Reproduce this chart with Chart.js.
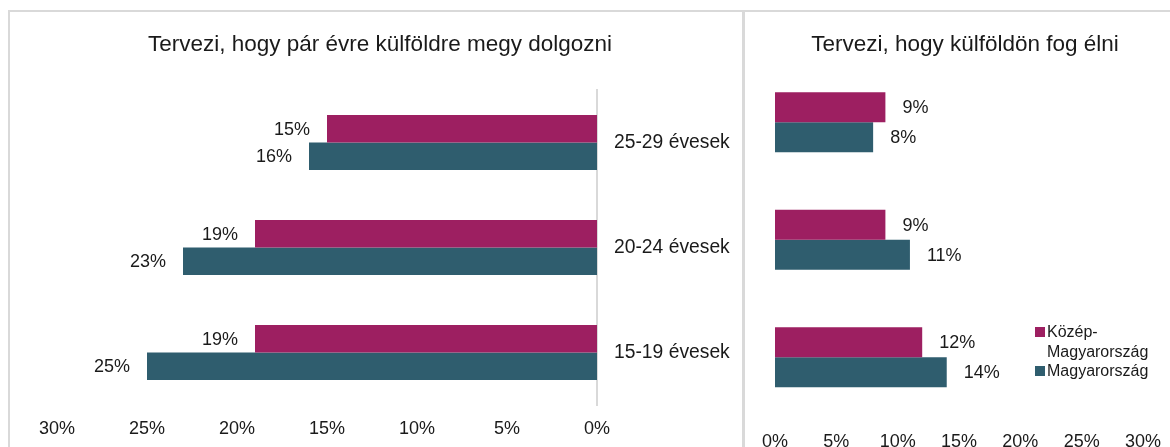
<!DOCTYPE html>
<html><head><meta charset="utf-8">
<script src="https://cdn.jsdelivr.net/npm/chart.js@4.4.1/dist/chart.umd.min.js"></script>
<style>
html,body{margin:0;padding:0;background:#fff;overflow:hidden;width:1170px;height:447px}
#wrap{position:relative;width:1170px;height:447px;font-family:"Liberation Sans",Arial,sans-serif}
.ln{position:absolute;background:#D9D9D9}
#c1{position:absolute;left:9px;top:11px}
#c2{position:absolute;left:746px;top:11px}
#legend{position:absolute;left:1035px;top:322px;font-size:16px;line-height:19.5px;color:#1a1a1a}
.li{display:flex;align-items:flex-start}
.sw{width:10px;height:10px;margin-top:5px;margin-right:2px;flex:none}
.tx{width:112px}
</style></head><body>
<div id="wrap">
  <div class="ln" style="left:9px;top:10px;width:1161px;height:1.5px"></div>
  <div class="ln" style="left:8px;top:10px;width:1.5px;height:437px"></div>
  <div class="ln" style="left:742px;top:10px;width:3px;height:437px"></div>
  <canvas id="c1" width="732" height="436"></canvas>
  <canvas id="c2" width="424" height="436"></canvas>
  <div id="legend"></div>
</div>
<script>
const categories = ["25-29 évesek", "20-24 évesek", "15-19 évesek"];
const seriesNames = ["Közép-Magyarország", "Magyarország"];
const seriesColors = ["#9D1F61", "#2F5D6E"];
const workAbroadKozep = [15, 19, 19];
const workAbroadMagyar = [16, 23, 25];
const liveAbroadKozep = [9, 9, 12];
const liveAbroadMagyar = [8, 11, 14];
const xTicks = [0, 5, 10, 15, 20, 25, 30];
const titleLeft = "Tervezi, hogy pár évre külföldre megy dolgozni";
const titleRight = "Tervezi, hogy külföldön fog élni";

const FONT = '"Liberation Sans", Arial, sans-serif';
const TXT = '#1a1a1a';

function labelPlugin(side) {
  return {
    id: 'valLabels',
    afterDatasetsDraw(chart) {
      const ctx = chart.ctx;
      ctx.save();
      ctx.font = '18px ' + FONT;
      ctx.fillStyle = TXT;
      ctx.textBaseline = 'middle';
      chart.data.datasets.forEach((ds, di) => {
        const meta = chart.getDatasetMeta(di);
        meta.data.forEach((el, i) => {
          const txt = ds.data[i] + '%';
          if (side === 'left') {
            ctx.textAlign = 'right';
            ctx.fillText(txt, el.x - 17, el.y + 1);
          } else {
            ctx.textAlign = 'left';
            ctx.fillText(txt, el.x + 17, el.y + 1);
          }
        });
      });
      ctx.restore();
    }
  };
}

function makeDatasets(a, b, catPct) {
  return [a, b].map((d, k) => ({
    label: seriesNames[k],
    data: d,
    backgroundColor: seriesColors[k],
    borderWidth: 0,
    categoryPercentage: catPct,
    barPercentage: 1
  }));
}

function spacer(pos, w) {
  return {
    type: 'category', position: pos, display: true,
    ticks: { display: false }, grid: { display: false, drawTicks: false },
    border: { display: false },
    afterFit: s => { s.width = w; s.paddingTop = 0; s.paddingBottom = 0; }
  };
}

Chart.defaults.font.family = FONT;
Chart.defaults.color = TXT;

new Chart(document.getElementById('c1'), {
  type: 'bar',
  data: { labels: categories, datasets: makeDatasets(workAbroadKozep, workAbroadMagyar, 0.524) },
  options: {
    indexAxis: 'y',
    responsive: false,
    animation: false,
    layout: { padding: { left: 10, right: 0, top: 0, bottom: 0 } },
    plugins: {
      legend: { display: false },
      tooltip: { enabled: false },
      title: { display: true, text: titleLeft, font: { size: 22.5, weight: 'normal' }, color: TXT, padding: { top: 20.5, bottom: 31.5 } }
    },
    scales: {
      x: {
        reverse: true, min: 0, max: 30,
        afterBuildTicks: s => { s.ticks = xTicks.map(v => ({ value: v })); },
        ticks: { callback: v => v + '%', font: { size: 18 }, color: TXT, padding: 13, maxRotation: 0 },
        grid: { display: false, drawTicks: false },
        border: { display: false },
        afterFit: s => { s.height = 42; s.paddingLeft = 0; s.paddingRight = 0; }
      },
      y: {
        position: 'right',
        ticks: { font: { size: 19.3 }, color: TXT, padding: 17 },
        grid: { display: false, drawTicks: false },
        border: { display: true, color: '#D9D9D9', width: 2 },
        afterFit: s => { s.width = 144; }
      },
      yPad: spacer('left', 38)
    }
  },
  plugins: [labelPlugin('left')]
});

new Chart(document.getElementById('c2'), {
  type: 'bar',
  data: { labels: categories, datasets: makeDatasets(liveAbroadKozep, liveAbroadMagyar, 0.51) },
  options: {
    indexAxis: 'y',
    responsive: false,
    animation: false,
    layout: { padding: { left: 14, right: 0, top: 0, bottom: 0 } },
    plugins: {
      legend: { display: false },
      tooltip: { enabled: false },
      title: { display: true, text: titleRight, font: { size: 22.5, weight: 'normal' }, color: TXT, padding: { top: 20.5, bottom: 5 } }
    },
    scales: {
      x: {
        min: 0, max: 30,
        afterBuildTicks: s => { s.ticks = xTicks.map(v => ({ value: v })); },
        ticks: { callback: v => v + '%', font: { size: 18 }, color: TXT, padding: 15, maxRotation: 0 },
        grid: { display: false, drawTicks: false },
        border: { display: false },
        afterFit: s => { s.height = 31; s.paddingLeft = 0; s.paddingRight = 0; }
      },
      y: spacer('left', 15),
      yPad: spacer('right', 27)
    }
  },
  plugins: [labelPlugin('right')]
});

const lg = document.getElementById('legend');
seriesNames.forEach((n, k) => {
  const it = document.createElement('div');
  it.className = 'li';
  const sw = document.createElement('span');
  sw.className = 'sw';
  sw.style.background = seriesColors[k];
  const tx = document.createElement('span');
  tx.className = 'tx';
  tx.textContent = n;
  it.appendChild(sw); it.appendChild(tx);
  lg.appendChild(it);
});
</script>
</body></html>
